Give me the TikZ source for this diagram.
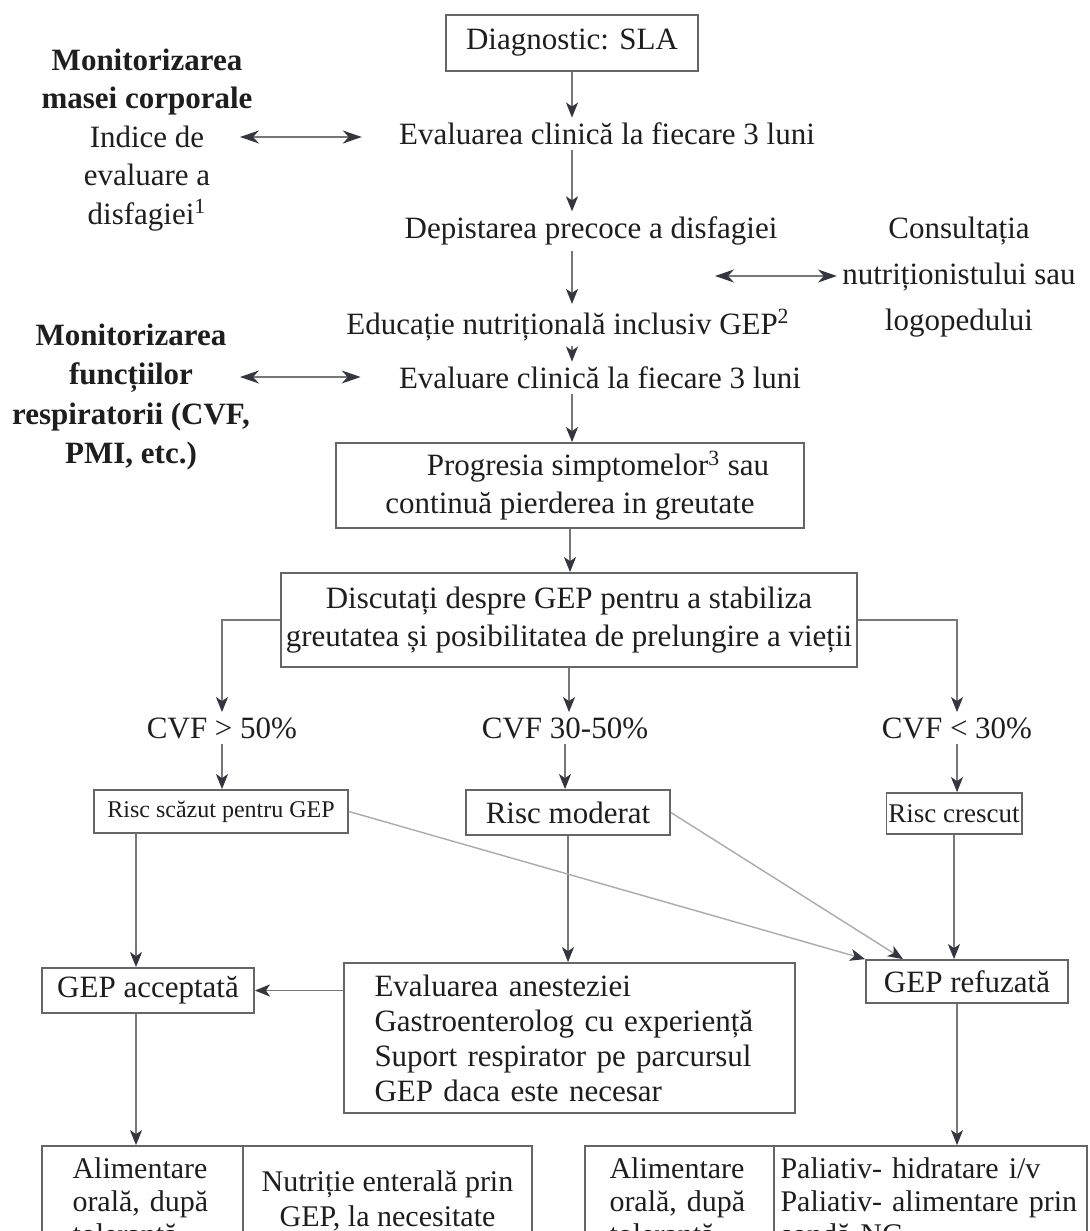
\documentclass[tikz,border=0pt]{standalone}
\usepackage{fontspec}
\setmainfont{Liberation Serif}
\usetikzlibrary{arrows.meta}
\definecolor{ink}{HTML}{1E1E1E}
\definecolor{rim}{HTML}{666666}
\definecolor{shaft}{HTML}{777777}
\definecolor{tip}{HTML}{34363F}
\definecolor{faint}{HTML}{ABABAB}

\begin{document}
\begin{tikzpicture}[x=0.5pt, y=-0.5pt,
    note/.style={text=ink, font=\fontsize{15.5}{19}\selectfont, inner sep=2.5pt, align=center},
    box/.style={note, draw=rim, line width=0.9pt},
    cell/.style={box, font=\fontsize{15}{16.5}\selectfont, minimum height=55pt, inner ysep=2pt},
    flow/.style={draw=shaft, line width=0.7pt, -{Stealth[length=7.5pt, width=6pt, inset=2pt, color=tip]}},
    both/.style={draw=shaft, line width=0.8pt, {Stealth[length=9.5pt, width=6.5pt, inset=3pt, color=tip]}-{Stealth[length=9.5pt, width=6.5pt, inset=3pt, color=tip]}},
    slope/.style={flow, draw=faint}
]
    \useasboundingbox (0,0) rectangle (1090,1231);
    \fill[white] (0,0) rectangle (1090,1231);
    \clip (0,0) rectangle (1090,1231);
    \node[box, minimum width=126pt, minimum height=28pt] (diag) at (572,43) {Diagnostic: SLA};
    \node[note] (evalA) at (607,134) {Evaluarea clinică la fiecare 3 luni};
    \node[note, font=\fontsize{15.5}{19.25}\selectfont] (monA) at (147,140) {\textbf{Monitorizarea}\\\textbf{masei corporale}\\Indice de\\evaluare a\\disfagiei\textsuperscript{1}};
    \node[note] (depist) at (591,231) {Depistarea precoce a disfagiei};
    \node[note] (educ) at (568,325) {Educație nutrițională inclusiv GEP\textsuperscript{2}};
    \node[note, font=\fontsize{15.5}{23}\selectfont] (consult) at (959,277) {Consultația\\nutriționistului sau\\logopedului};
    \node[note] (evalB) at (600,378) {Evaluare clinică la fiecare 3 luni};
    \node[note, font=\fontsize{15.5}{19.75}\selectfont] (monB) at (131,397) {\textbf{Monitorizarea}\\\textbf{funcțiilor}\\\textbf{respiratorii (CVF,}\\\textbf{PMI, etc.)}};
    \node[box, minimum width=234pt, minimum height=42.5pt] (prog) at (570,485.5) {\hspace*{28pt}Progresia simptomelor\textsuperscript{3} sau\\continuă pierderea in greutate};
    \node[box, minimum width=284pt, minimum height=47pt] (disc) at (569,620) {Discutați despre GEP pentru a stabiliza\\greutatea și posibilitatea de prelungire a vieții};
    \node[note] (cvfhi) at (222,728) {CVF > 50\%};
    \node[note] (cvfmid) at (565,728) {CVF 30-50\%};
    \node[note] (cvflo) at (957,728) {CVF < 30\%};
    \node[box, font=\fontsize{12}{14}\selectfont, minimum width=127pt, minimum height=21.5pt] (risclo) at (221,811.5) {Risc scăzut pentru GEP};
    \node[box, minimum width=102pt, minimum height=22.5pt] (riscmod) at (568,812.5) {Risc moderat};
    \node[box, font=\fontsize{13.5}{16}\selectfont, inner xsep=1pt, minimum width=67pt, minimum height=20.5pt] (risccr) at (954,813.5) {Risc crescut};
    \node[box, minimum width=106pt, minimum height=22.5pt] (accept) at (148,990.5) {GEP acceptată};
    \node[box, align=left, text width=195pt, inner xsep=15.25pt, minimum height=75pt, font=\fontsize{15.5}{17.5}\selectfont] (anest) at (569.5,1038) {Evaluarea anesteziei\\Gastroenterolog cu experiență\\Suport respirator pe parcursul\\GEP daca este necesar};
    \node[box, minimum width=101pt, minimum height=21.5pt] (refuz) at (967,981.5) {GEP refuzată};
    \node[cell, align=left, text width=70pt, inner xsep=15.25pt] (oralA) at (142.5,1201) {Alimentare\\orală, după\\tolerantă};
    \node[cell, font=\fontsize{15}{17.5}\selectfont, minimum width=144.5pt] (enteral) at (387.5,1201) {Nutriție enterală prin\\GEP, la necesitate};
    \node[cell, align=left, text width=70pt, inner xsep=12.25pt] (oralB) at (679.5,1201) {Alimentare\\orală, după\\tolerantă};
    \node[cell, align=left, text width=150pt, inner xsep=3.25pt] (paliat) at (930.5,1201) {Paliativ- hidratare i/v\\Paliativ- alimentare prin\\sondă NG};
    \coordinate (monAtip) at (240,137);
    \coordinate (monBtip) at (240,377);
    \coordinate (consTip) at (715,276);
    \coordinate (accin) at ([xshift=-6pt]accept.north);
    \coordinate (accout) at ([xshift=-6pt]accept.south);
    \coordinate (refin) at ([xshift=-32pt]refuz.north);
    \coordinate (refout) at ([xshift=-5pt]refuz.south);
    \draw[flow] (diag) -- (diag |- evalA.north);
    \draw[flow] (evalA.south -| diag) -- (depist.north -| diag);
    \draw[flow] (depist.south -| diag) -- (educ.north -| diag);
    \draw[flow] (educ.south -| diag) -- (evalB.north -| diag);
    \draw[flow] (evalB.south -| diag) -- (prog.north -| diag);
    \draw[flow] (prog.south) -- (prog.south |- disc.north);
    \draw[both, shorten >=16pt] (monAtip) -- (monAtip -| evalA.west);
    \draw[both, shorten >=16.5pt] (monBtip) -- (monBtip -| evalB.west);
    \draw[both] (consTip) -- (consTip -| consult.west);
    \draw[flow] (disc.west) -| (cvfhi.north);
    \draw[flow] (disc.south) -- (disc.south |- cvfmid.north);
    \draw[flow] (disc.east) -| (cvflo.north);
    \draw[flow] (cvfhi.south) -- (cvfhi.south |- risclo.north);
    \draw[flow] (cvfmid.south) -- (cvfmid.south |- riscmod.north);
    \draw[flow] (cvflo.south) -- (cvflo.south |- risccr.north);
    \draw[flow] (accin |- risclo.south) -- (accin);
    \draw[flow] (riscmod.south) -- (riscmod.south |- anest.north);
    \draw[flow] (risccr.south) -- (risccr.south |- refuz.north);
    \draw[slope] (risclo.east) -- (refuz.north west);
    \draw[slope] (riscmod.east) -- (refin);
    \draw[flow] (anest.west |- accept.east) -- (accept.east);
    \draw[flow] (accout) -- (accout |- oralA.north);
    \draw[flow] (refout) -- (refout |- paliat.north);
\end{tikzpicture}
\end{document}
